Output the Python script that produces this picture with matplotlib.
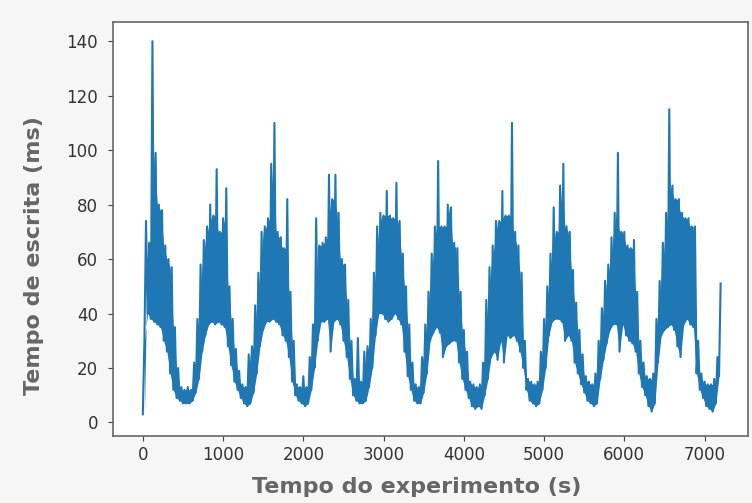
import numpy as np
import matplotlib
matplotlib.use("Agg")
import matplotlib.pyplot as plt

# upper edge of the band, sampled every 40 s starting at t = 0
upper = [
    3, 74, 66, 140, 99, 80, 78, 65, 60, 57,
    35, 20, 13, 12, 13, 12, 22, 38, 58, 67,
    72, 80, 76, 93, 70, 75, 86, 50, 38, 27,
    19, 14, 13, 25, 28, 43, 55, 70, 72, 75,
    95, 110, 70, 68, 64, 82, 48, 30, 14, 13,
    17, 13, 24, 36, 75, 65, 66, 68, 91, 82,
    91, 77, 60, 58, 45, 30, 16, 31, 15, 26,
    28, 38, 55, 72, 77, 76, 85, 76, 75, 88,
    74, 62, 50, 36, 22, 14, 13, 24, 36, 48,
    62, 72, 96, 72, 72, 80, 79, 66, 64, 48,
    34, 26, 15, 14, 13, 14, 22, 45, 57, 65,
    74, 74, 85, 76, 76, 110, 70, 65, 55, 30,
    16, 15, 14, 15, 26, 38, 50, 62, 79, 70,
    87, 95, 72, 70, 56, 44, 34, 25, 17, 15,
    14, 18, 30, 42, 52, 58, 68, 77, 99, 70,
    70, 65, 64, 67, 48, 30, 22, 17, 16, 18,
    38, 52, 66, 77, 115, 87, 82, 82, 77, 75,
    75, 72, 72, 30, 18, 15, 14, 14, 16, 24,
    51,
]

# lower edge of the band, sampled every 40 s starting at t = 20
lower = [
    30, 40, 38, 37, 36, 35, 30, 26, 18, 12,
    9, 8, 7, 7, 7, 8, 11, 16, 26, 32,
    36, 37, 36, 37, 36, 35, 28, 21, 15, 12,
    9, 7, 6, 7, 11, 18, 28, 34, 37, 37,
    38, 37, 36, 32, 30, 24, 15, 10, 8, 7,
    6, 7, 12, 20, 30, 37, 37, 38, 26, 37,
    38, 36, 30, 24, 16, 10, 8, 7, 7, 8,
    13, 20, 32, 40, 40, 38, 37, 38, 40, 38,
    36, 26, 17, 12, 8, 7, 7, 11, 18, 30,
    33, 35, 33, 24, 28, 29, 30, 30, 22, 16,
    12, 9, 6, 5, 6, 5, 10, 16, 24, 26,
    23, 30, 22, 32, 31, 32, 30, 26, 20, 12,
    8, 7, 6, 7, 12, 20, 32, 37, 38, 38,
    37, 30, 32, 30, 22, 18, 14, 11, 8, 7,
    6, 7, 16, 23, 29, 34, 36, 36, 26, 36,
    32, 30, 29, 26, 18, 13, 10, 6, 4, 7,
    22, 32, 34, 35, 36, 34, 28, 24, 36, 38,
    36, 35, 18, 12, 9, 6, 5, 4, 7, 17,
]

up = np.array(upper, dtype=float)
lo = np.array(lower, dtype=float)
t_up = np.arange(len(up)) * 40
t_lo = np.arange(len(lo)) * 40 + 20

# interleave the two edges -> one zigzag line like the raw samples
t = np.empty(len(up) + len(lo))
v = np.empty(len(up) + len(lo))
t[0::2] = t_up
t[1::2] = t_lo
v[0::2] = up
v[1::2] = lo

blue = "#1f77b4"

fig = plt.figure(figsize=(7.52, 5.03), dpi=100, facecolor="#f6f6f6")
ax = fig.add_axes([0.150, 0.133, 0.845, 0.823])
ax.set_facecolor("white")

# dense sampling in the original makes the band look solid
ax.fill_between(t_lo, lo, np.minimum(up[:-1], up[1:]), color=blue, lw=0)
ax.plot(t, v, color=blue, linewidth=1.5)

ax.set_xlim(-374, 7544)
ax.set_ylim(-5, 147)
ax.set_xticks(range(0, 7001, 1000))
ax.set_yticks(range(0, 141, 20))
ax.tick_params(labelsize=12, colors="#444444", labelcolor="#333333")
ax.tick_params(axis="y", pad=7)

for s in ax.spines.values():
    s.set_color("#666666")
    s.set_linewidth(1.2)

ax.set_xlabel("Tempo do experimento (s)", fontsize=16, fontweight="bold",
              color="#666666")
ax.set_ylabel("Tempo de escrita (ms)", fontsize=16, fontweight="bold",
              color="#666666")
ax.xaxis.set_label_coords(0.479, -0.098)
ax.yaxis.set_label_coords(-0.108, 0.435)

fig.savefig("out.png", dpi=100, facecolor=fig.get_facecolor())
